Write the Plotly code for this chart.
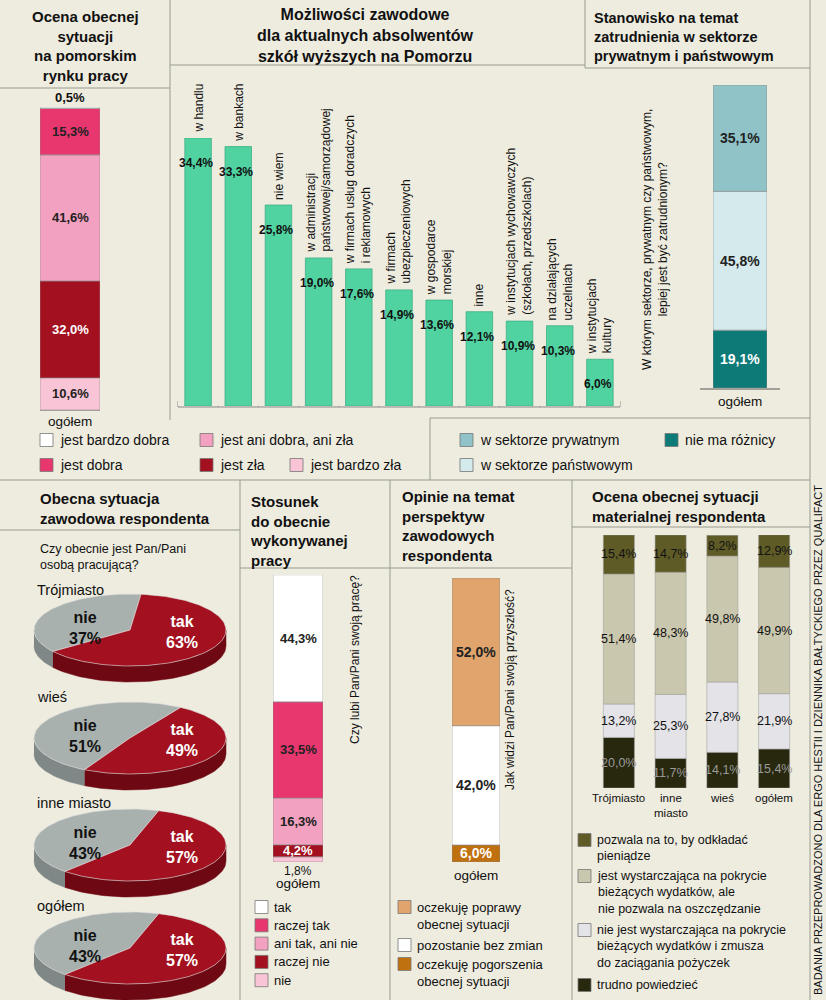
import numpy as np
import plotly.graph_objects as go

W, H = 826, 1000
BG = "#EEECDF"
FONT = "Liberation Sans Narrow, Liberation Sans, Arial"
TFONT = "Liberation Sans, Arial"

# ---------- data ----------
ocena_labels = ["jest bardzo zła", "jest zła", "jest ani dobra, ani zła", "jest dobra", "jest bardzo dobra"]
ocena_values = [10.6, 32.0, 41.6, 15.3, 0.5]
ocena_colors = ["#F9C5D6", "#A3101F", "#F3A1C0", "#E8366F", "#FFFFFF"]
ocena_tcol = ["#222", "#fff", "#222", "#222", "#222"]

moz_cats = ["w handlu", "w bankach", "nie wiem", "w administracji<br>państwowej/samorządowej",
            "w firmach usług doradczych<br>i reklamowych", "w firmach<br>ubezpieczeniowych",
            "w gospodarce<br>morskiej", "inne", "w instytucjach wychowawczych<br>(szkołach, przedszkolach)",
            "na działających<br>uczelniach", "w instytucjach<br>kultury"]
moz_values = [34.4, 33.3, 25.8, 19.0, 17.6, 14.9, 13.6, 12.1, 10.9, 10.3, 6.0]

sektor_labels = ["nie ma różnicy", "w sektorze państwowym", "w sektorze prywatnym"]
sektor_values = [19.1, 45.8, 35.1]
sektor_colors = ["#0E7A78", "#D5EAEC", "#8FC3C7"]
sektor_tcol = ["#fff", "#222", "#222"]

pie_groups = ["Trójmiasto", "wieś", "inne miasto", "ogółem"]
pie_tak = [63, 49, 57, 57]
pie_nie = [37, 51, 43, 43]

stos_labels = ["nie", "raczej nie", "ani tak, ani nie", "raczej tak", "tak"]
stos_values = [1.8, 4.2, 16.3, 33.5, 44.3]
stos_colors = ["#F9C5D6", "#A3101F", "#F3A1C0", "#E8366F", "#FFFFFF"]
stos_tcol = ["#222", "#fff", "#222", "#222", "#222"]

opin_labels = ["oczekuję pogorszenia obecnej sytuacji", "pozostanie bez zmian", "oczekuję poprawy obecnej sytuacji"]
opin_values = [6.0, 42.0, 52.0]
opin_colors = ["#BF700F", "#FFFFFF", "#E0A46C"]
opin_tcol = ["#fff", "#222", "#222"]

mat_cats = ["Trójmiasto", "inne<br>miasto", "wieś", "ogółem"]
mat_trudno = [20.0, 11.7, 14.1, 15.4]
mat_nie_wyst = [13.2, 25.3, 27.8, 21.9]
mat_wyst = [51.4, 48.3, 49.8, 49.9]
mat_odklad = [15.4, 14.7, 8.2, 12.9]
mat_series = [mat_trudno, mat_nie_wyst, mat_wyst, mat_odklad]
mat_colors = ["#28280E", "#E3E3E8", "#C9C7AD", "#5F5B27"]
mat_tcol = ["#9A9A9A", "#111", "#111", "#111"]


def fmt(v):
    return f"{v:.1f}".replace(".", ",") + "%"


def dx(a, b):
    return [a / W, b / W]


def dy(top, bot):
    return [1 - bot / H, 1 - top / H]


fig = go.Figure()
ann = []
shapes = []

fig.update_layout(
    xaxis=dict(domain=[0, 1], range=[0, W], visible=False, fixedrange=True),
    yaxis=dict(domain=[0, 1], range=[H, 0], visible=False, fixedrange=True),
)


def A(x, y, text, size=12, bold=False, color="#111", xanchor="left", yanchor="top",
      angle=0, xref="x", yref="y", font=FONT, align="left", **kw):
    t = f"<b>{text}</b>" if bold else text
    ann.append(dict(x=x, y=y, xref=xref, yref=yref, text=t, showarrow=False,
                    font=dict(size=size, color=color, family=font), xanchor=xanchor,
                    yanchor=yanchor, textangle=angle, align=align, **kw))


def line(x0, y0, x1, y1, color="#9A9A90", w=1):
    shapes.append(dict(type="line", x0=x0, y0=y0, x1=x1, y1=y1, xref="x", yref="y",
                       line=dict(color=color, width=w), layer="below"))


def square(x, y, color, s=13):
    shapes.append(dict(type="rect", x0=x, y0=y - s / 2, x1=x + s, y1=y + s / 2, xref="x", yref="y",
                       fillcolor=color, line=dict(color="#777", width=0.8)))


axn = [1]


def new_axis(xd, yd, xr, yr):
    axn[0] += 1
    n = axn[0]
    xa = dict(domain=xd, range=xr, visible=False, fixedrange=True, anchor=f"y{n}")
    ya = dict(domain=yd, range=yr, visible=False, fixedrange=True, anchor=f"x{n}")
    fig.update_layout(**{f"xaxis{n}": xa, f"yaxis{n}": ya})
    return f"x{n}", f"y{n}"


def stacked(xd, yd, values, colors, tcols, size=13, skip=()):
    xr, yr = new_axis(xd, yd, [-0.5, 0.5], [0, 100])
    base = 0
    for i, (v, c) in enumerate(zip(values, colors)):
        fig.add_trace(go.Bar(x=[0], y=[v], base=[base], marker=dict(color=c, line=dict(color="#8a8a8a", width=0.6)),
                             width=1, xaxis=xr, yaxis=yr, showlegend=False, hoverinfo="skip"))
        if i not in skip:
            A(0, base + v / 2, fmt(v), size=size, bold=True, color=tcols[i], xanchor="center",
              yanchor="middle", xref=xr, yref=yr, font=TFONT)
        base += v
    return xr, yr


# ---------- top-left ----------
A(85, 6, "Ocena obecnej<br>sytuacji<br>na pomorskim<br>rynku pracy", 15, True, xanchor="center", font=TFONT, align="center")
xr, yr = stacked(dx(40, 100), dy(107, 410), ocena_values, ocena_colors, ocena_tcol, skip=(4,))
A(0, 100, fmt(ocena_values[4]), 13, True, xanchor="center", yanchor="bottom", xref=xr, yref=yr, font=TFONT)
A(70, 412, "ogółem", 13.5, xanchor="center")
line(40, 410, 100, 410, "#555")

# ---------- top-middle ----------
A(365, 4, "Możliwości zawodowe<br>dla aktualnych absolwentów<br>szkół wyższych na Pomorzu", 16, True,
  xanchor="center", font=TFONT, align="center")
xr, yr = new_axis(dx(178, 620), dy(138, 406), [-0.5, len(moz_values) - 0.5], [0, 34.4])
fig.add_trace(go.Bar(x=list(range(len(moz_values))), y=moz_values, width=0.66,
                     marker=dict(color="#50D3A1", line=dict(color="#3FAE84", width=0.8)),
                     xaxis=xr, yaxis=yr, showlegend=False, hoverinfo="skip"))
for i, (c, v) in enumerate(zip(moz_cats, moz_values)):
    A(i, v, c, 12, xanchor="center", yanchor="bottom", angle=-90, xref=xr, yref=yr, align="left", yshift=3)
    A(i - 0.05, v, fmt(v), 12, True, xanchor="center", yanchor="top", xref=xr, yref=yr, font=TFONT, yshift=-16)
line(178, 407, 620, 407, "#888")
for i in range(len(moz_values) + 1):
    x = 178 + i * (442 / len(moz_values))
    line(x, 401, x, 407, "#888")

# ---------- top-right ----------
A(592, 8, "Stanowisko na temat<br>zatrudnienia w sektorze<br>prywatnym i państwowym", 14.5, True, font=TFONT)
stacked(dx(713, 767), dy(85, 388), sektor_values, sektor_colors, sektor_tcol, size=14)
A(655, 240, "W którym sektorze, prywatnym czy państwowym,<br>lepiej jest być zatrudnionym?", 12,
  xanchor="center", yanchor="middle", angle=-90, align="center")
A(740, 392, "ogółem", 13.5, xanchor="center")
line(700, 389, 780, 389, "#555")

# ---------- top legends ----------
leg_top = [(40, 440, "#FFFFFF", "jest bardzo dobra"), (200, 440, "#F3A1C0", "jest ani dobra, ani zła"),
           (40, 465, "#E8366F", "jest dobra"), (200, 465, "#A3101F", "jest zła"),
           (290, 465, "#F9C5D6", "jest bardzo zła"),
           (460, 440, "#8FC3C7", "w sektorze prywatnym"), (665, 440, "#0E7A78", "nie ma różnicy"),
           (460, 465, "#D5EAEC", "w sektorze państwowym")]
for x, y, c, t in leg_top:
    square(x, y, c)
    A(x + 18, y, t, 14, yanchor="middle")

# ---------- pies ----------
A(38, 488, "Obecna sytuacja<br>zawodowa respondenta", 15, True, font=TFONT)
A(38, 540, "Czy obecnie jest Pan/Pani<br>osobą pracującą?", 12.5)
pie_cy = [630, 738, 845, 948]
pie_lab_y = [580, 687, 793, 896]
RX, RY, DEP = 96, 36, 16


def ell(cx, cy, t):
    r = np.radians(t)
    return cx + RX * np.cos(r), cy - RY * np.sin(r)


for g, tak, nie, cy, ly in zip(pie_groups, pie_tak, pie_nie, pie_cy, pie_lab_y):
    cx = 130
    A(35, ly, g, 14.5)
    a0 = 150 - nie * 3.6 / 2
    a1 = a0 + nie * 3.6
    wedges = [(a0, a1, "#A9B1AF", "#7F8886"), (a1, a0 + 360, "#A3101F", "#6E0812")]
    for s, e, ctop, cside in wedges:
        for k in range(-1, 2):
            lo, hi = max(s, 180 + 360 * k), min(e, 360 + 360 * k)
            if hi > lo:
                ts = np.linspace(lo, hi, 60)
                xs, ys = ell(cx, cy, ts)
                px = np.concatenate([xs, xs[::-1]])
                py = np.concatenate([ys, (ys + DEP)[::-1]])
                fig.add_trace(go.Scatter(x=px, y=py, fill="toself", fillcolor=cside, mode="lines",
                                         line=dict(color=cside, width=0.5), showlegend=False, hoverinfo="skip"))
    for s, e, ctop, cside in wedges:
        ts = np.linspace(s, e, 120)
        xs, ys = ell(cx, cy, ts)
        px = np.concatenate([[cx], xs, [cx]])
        py = np.concatenate([[cy], ys, [cy]])
        fig.add_trace(go.Scatter(x=px, y=py, fill="toself", fillcolor=ctop, mode="lines",
                                 line=dict(color="#ddd", width=0.6), showlegend=False, hoverinfo="skip"))
    A(cx - 45, cy - 2, f"nie<br>{nie}%", 16, True, color="#111", xanchor="center", yanchor="middle", font=TFONT, align="center")
    A(cx + 52, cy + 2, f"tak<br>{tak}%", 16, True, color="#fff", xanchor="center", yanchor="middle", font=TFONT, align="center")

# ---------- stosunek ----------
A(248, 491, "Stosunek<br>do obecnie<br>wykonywanej<br>pracy", 15, True, font=TFONT)
stacked(dx(273, 323), dy(575, 862), stos_values, stos_colors, stos_tcol, size=13, skip=(0,))
A(298, 862, fmt(stos_values[0]), 12, xanchor="center")
A(298, 874, "ogółem", 13.5, xanchor="center")
A(355, 660, "Czy lubi Pan/Pani swoją pracę?", 12, xanchor="center", yanchor="middle", angle=-90)
for i, (c, t) in enumerate(zip(stos_colors[::-1], stos_labels[::-1])):
    y = 907 + i * 18.3
    square(255, y, c)
    A(272, y, t, 13, yanchor="middle")

# ---------- opinie ----------
A(400, 486, "Opinie na temat<br>perspektyw<br>zawodowych<br>respondenta", 15, True, font=TFONT)
stacked(dx(452, 500), dy(578, 862), opin_values, opin_colors, opin_tcol, size=14)
A(476, 866, "ogółem", 13.5, xanchor="center")
A(510, 690, "Jak widzi Pan/Pani swoją przyszłość?", 12, xanchor="center", yanchor="middle", angle=-90)
opin_leg = [(907, opin_colors[2], "oczekuję poprawy<br>obecnej sytuacji"), (945, opin_colors[1], "pozostanie bez zmian"),
            (964, opin_colors[0], "oczekuję pogorszenia<br>obecnej sytuacji")]
for y, c, t in opin_leg:
    square(398, y, c)
    A(415, y - 9, t, 13, yanchor="top")

# ---------- material ----------
A(590, 486, "Ocena obecnej sytuacji<br>materialnej respondenta", 15, True, font=TFONT)
xr, yr = new_axis(dx(593, 800), dy(535, 788), [-0.5, 3.5], [0, 100])
basev = np.zeros(4)
for vals, c, tc in zip(mat_series, mat_colors, mat_tcol):
    fig.add_trace(go.Bar(x=list(range(4)), y=vals, base=basev.copy(), width=0.6,
                         marker=dict(color=c, line=dict(color="#999", width=0.5)),
                         xaxis=xr, yaxis=yr, showlegend=False, hoverinfo="skip"))
    for i, v in enumerate(vals):
        A(i, basev[i] + v / 2, fmt(v), 12.5, color=tc, xanchor="center", yanchor="middle", xref=xr, yref=yr)
    basev += np.array(vals)
for i, c in enumerate(mat_cats):
    A(i, 0, c, 11.5, xanchor="center", xref=xr, yref=yr, align="center", yshift=-2)
mat_leg = [(840, mat_colors[3], "pozwala na to, by odkładać<br>pieniądze"),
           (876, mat_colors[2], "jest wystarczająca na pokrycie<br>bieżących wydatków, ale<br>nie pozwala na oszczędzanie"),
           (930, mat_colors[1], "nie jest wystarczająca na pokrycie<br>bieżących wydatków i zmusza<br>do zaciągania pożyczek"),
           (985, mat_colors[0], "trudno powiedzieć")]
for y, c, t in mat_leg:
    square(578, y, c)
    A(595, y - 9, t, 12.5, yanchor="top")

A(818, 740, "BADANIA PRZEPROWADZONO DLA ERGO HESTII I DZIENNIKA BAŁTYCKIEGO PRZEZ QUALIFACT", 11,
  xanchor="center", yanchor="middle", angle=-90)

# ---------- divider lines ----------
line(170, 0, 170, 420)
line(0, 88, 170, 88)
line(170, 65, 585, 65)
line(585, 0, 585, 68)
line(585, 68, 810, 68)
line(430, 418, 810, 418)
line(430, 418, 430, 480)
line(0, 480, 810, 480)
for x in (240, 390, 572):
    line(x, 480, x, 1000)
line(0, 530, 240, 530)
line(240, 568, 572, 568)
line(572, 527, 810, 527)
line(810, 0, 810, 1000)

fig.update_layout(width=W, height=H, margin=dict(l=0, r=0, t=0, b=0), paper_bgcolor=BG, plot_bgcolor=BG,
                  annotations=ann, shapes=shapes, barmode="overlay", showlegend=False)
fig.write_html("out.html", config={"displayModeBar": False},
               post_script="document.body.style.margin='0';document.body.style.overflow='hidden';")
